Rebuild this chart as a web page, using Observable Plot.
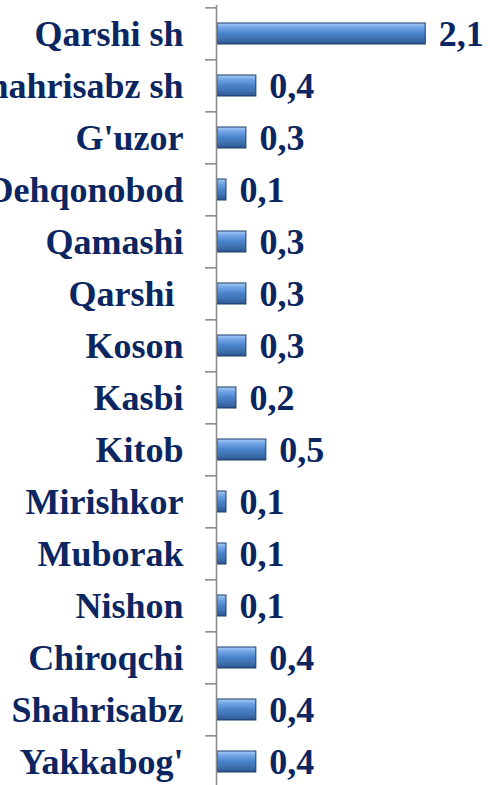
<!DOCTYPE html>
<html>
<head>
<meta charset="utf-8">
<script src="https://cdn.jsdelivr.net/npm/d3@7"></script>
<script src="https://cdn.jsdelivr.net/npm/@observablehq/plot@0.6"></script>
<style>
  html, body { margin: 0; padding: 0; background: #fff; }
  #chart { width: 490px; height: 785px; overflow: hidden; }
</style>
</head>
<body>
<div id="chart"></div>
<script>
const categories = ["Qarshi sh", "Shahrisabz sh", "G'uzor", "Dehqonobod", "Qamashi", "Qarshi ", "Koson", "Kasbi", "Kitob", "Mirishkor", "Muborak", "Nishon", "Chiroqchi", "Shahrisabz", "Yakkabog'"];
const values = [2.1, 0.4, 0.3, 0.1, 0.3, 0.3, 0.3, 0.2, 0.5, 0.1, 0.1, 0.1, 0.4, 0.4, 0.4];

const data = categories.map((c, i) => ({ name: c, value: values[i] }));

const W = 490, H = 785, mT = 5, mB = -4.5, mL = 216;
const step = (H - mT - mB) / categories.length;
const font = "'Liberation Serif', 'Times New Roman', serif";
const navy = "#0b2660";

const plot = Plot.plot({
  width: W,
  height: H,
  marginLeft: mL,
  marginRight: 0,
  marginTop: mT,
  marginBottom: mB,
  style: { fontFamily: font, background: "white", overflow: "visible" },
  x: { domain: [0, 2.75], axis: null },
  y: { domain: categories, paddingInner: 0.6, paddingOuter: 0.3, axis: null },
  marks: [
    Plot.barX(data, {
      y: "name", x: "value",
      fill: "url(#barGrad)", stroke: "#1d3a66", strokeWidth: 1, insetLeft: 1
    }),
    Plot.ruleX([0], { stroke: "#8c8c8c", strokeWidth: 1.6 }),
    Plot.ruleY(categories, { y: d => d, x1: -0.11, x2: 0, dy: -step / 2, stroke: "#8c8c8c", strokeWidth: 1.6 }),
    Plot.text(data, {
      y: "name", x: 0, text: "name", textAnchor: "end", dx: -33,
      fill: navy, fontSize: 36, fontWeight: "bold", fontFamily: font
    }),
    Plot.text(data, {
      y: "name", x: "value", text: d => d.value.toFixed(1).replace(".", ","),
      textAnchor: "start", dx: 13,
      fill: navy, fontSize: 36, fontWeight: "bold", fontFamily: font
    })
  ]
});

const svg = d3.select(plot);
const defs = svg.insert("defs", ":first-child");
const g = defs.append("linearGradient").attr("id", "barGrad")
  .attr("x1", 0).attr("y1", 0).attr("x2", 0).attr("y2", 1);
[["0%", "#a9cdf5"], ["22%", "#6ea4e6"], ["50%", "#4b82c9"], ["78%", "#3d6fae"], ["100%", "#2a5690"]]
  .forEach(([o, c]) => g.append("stop").attr("offset", o).attr("stop-color", c));

document.getElementById("chart").append(plot);
</script>
</body>
</html>
